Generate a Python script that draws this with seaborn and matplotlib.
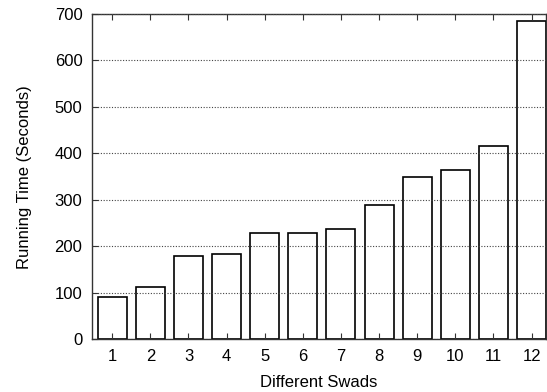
import matplotlib
matplotlib.use("Agg")
import matplotlib.pyplot as plt
import seaborn as sns
import pandas as pd

categories = ["1", "2", "3", "4", "5", "6", "7", "8", "9", "10", "11", "12"]
running_time = [92, 112, 180, 183, 228, 229, 238, 290, 349, 365, 416, 685]
yticks = [0, 100, 200, 300, 400, 500, 600, 700]

df = pd.DataFrame({"swad": categories, "time": running_time})

sns.set_style("ticks")
plt.rcParams["font.family"] = ["Liberation Sans", "DejaVu Sans"]
plt.rcParams["text.color"] = "black"
plt.rcParams["axes.labelcolor"] = "black"
plt.rcParams["xtick.labelcolor"] = "black"
plt.rcParams["ytick.labelcolor"] = "black"

fig = plt.figure(figsize=(5.47, 3.92), dpi=100)
ax = fig.add_axes([0.1685, 0.1344, 0.8295, 0.8299])

sns.barplot(data=df, x="swad", y="time", ax=ax, order=categories,
            fill=False, edgecolor="black", linewidth=1.2, width=0.76,
            errorbar=None)

ax.set_ylim(0, 700)
ax.set_xlim(-0.525, 11.375)
ax.set_yticks(yticks)
ax.set_yticklabels([str(v) for v in yticks])
ax.yaxis.grid(True, linestyle=(0, (1, 1.5)), color="#444444", linewidth=0.8)
ax.set_axisbelow(False)

ax.tick_params(axis="both", direction="in", labelsize=12, length=4,
               width=0.8, color="#333333", labelcolor="black",
               top=True, right=False)
ax.tick_params(axis="y", pad=7)
ax.tick_params(axis="x", pad=7)
ax.set_xlabel("Different Swads", fontsize=12, labelpad=8, color="black")
ax.set_ylabel("Running Time (Seconds)", fontsize=12, labelpad=16, color="black")

for s in ax.spines.values():
    s.set_color("#333333")
    s.set_linewidth(1.0)

fig.savefig("out.png", dpi=100)
